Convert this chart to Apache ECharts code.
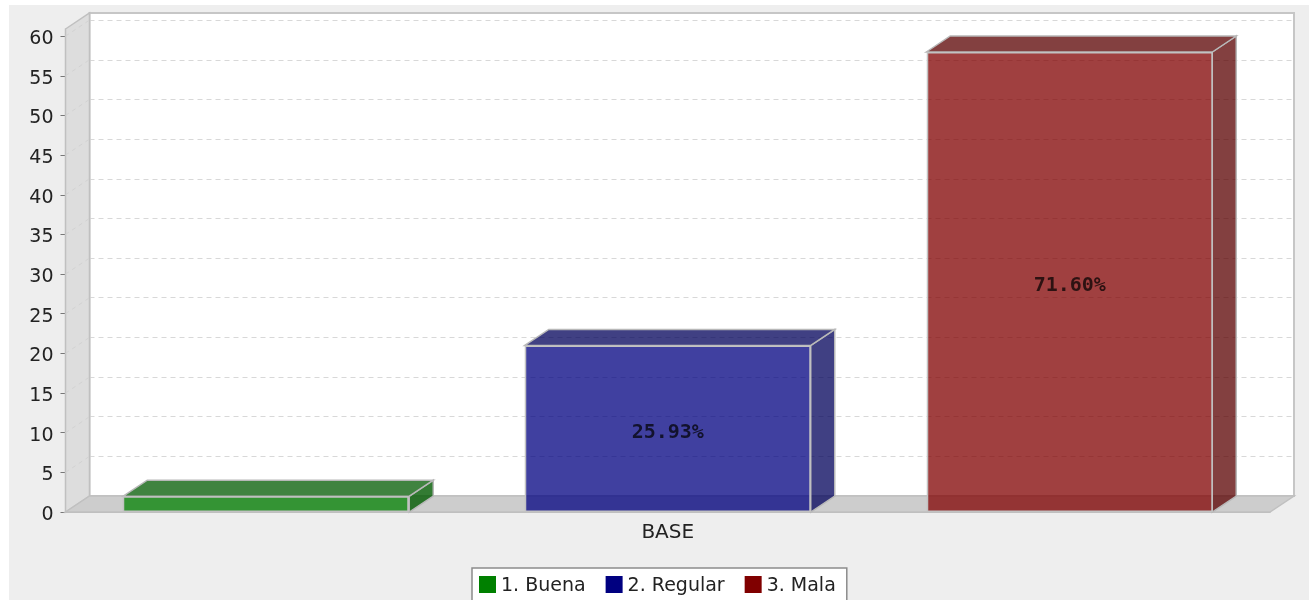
<!DOCTYPE html>
<html>
<head>
<meta charset="utf-8">
<title>BASE</title>
<style>
  html, body { margin: 0; padding: 0; background: #fff; overflow: hidden; }
  #chart { position: absolute; left: 9px; top: 5px; width: 1300px; height: 595px; }
  /* the source picture is a soft, upscaled image */
  #chart canvas { filter: blur(0.5px); }
</style>
</head>
<body>
<div id="chart"></div>
<script src="https://cdn.jsdelivr.net/npm/echarts@6/dist/echarts.min.js"></script>
<script>
const categories = ['BASE'];
const seriesNames = ['1. Buena', '2. Regular', '3. Mala'];
const seriesValues = [2, 21, 58];
const percentLabels = ['', '25.93%', '71.60%'];
const yTicks = [0, 5, 10, 15, 20, 25, 30, 35, 40, 45, 50, 55, 60];
const yMax = 60.9;

const solidColors = ['#008000', '#000080', '#800000'];
const frontColors = ['rgba(0,128,0,0.75)', 'rgba(0,0,128,0.75)', 'rgba(128,0,0,0.75)'];
const topColors = ['rgba(0,90,0,0.75)', 'rgba(0,0,89,0.75)', 'rgba(89,0,0,0.75)'];
const sideColors = ['rgba(0,90,0,0.8)', 'rgba(0,0,89,0.75)', 'rgba(89,0,0,0.75)'];

// 3d look: back wall is shifted by this much from the front plane
const DEPTH_X = 24;
const DEPTH_Y = 16;
const BAR_WIDTH = 286;
const TEXT_COLOR = '#222';
const FONT = '"DejaVu Sans"';

function poly(points, fill, stroke) {
  return {
    type: 'polygon',
    shape: { points },
    style: { fill, stroke: stroke || 'none', lineWidth: 1.5 }
  };
}

// left wall + floor
function renderWalls(params, api) {
  const cs = params.coordSys;
  const top = cs.y;
  const bottom = cs.y + cs.height;
  const left = cs.x;
  const right = cs.x + cs.width;
  const children = [
    poly([[left, top], [left + DEPTH_X, top - DEPTH_Y], [left + DEPTH_X, bottom - DEPTH_Y], [left, bottom]], '#dddddd', '#c0c0c0'),
    poly([[left, bottom], [left + DEPTH_X, bottom - DEPTH_Y], [right + DEPTH_X, bottom - DEPTH_Y], [right, bottom]], '#cdcdcd', '#c0c0c0')
  ];
  yTicks.slice(1).forEach(v => {
    const y = api.coord([0, v])[1];
    children.push({
      type: 'line',
      shape: { x1: left, y1: y, x2: left + DEPTH_X, y2: y - DEPTH_Y },
      style: { stroke: '#d2d2d2', lineWidth: 1, lineDash: [4, 4] }
    });
  });
  return { type: 'group', children };
}

// top and side faces, the front face is the normal bar series
function renderDepth(params, api) {
  const i = params.dataIndex;
  const end = api.coord([api.value(0), api.value(1)]);
  const base = api.coord([api.value(0), 0]);
  const band = api.size([1, 0])[0];
  const pitch = band / seriesValues.length;
  const x0 = end[0] - band / 2 + pitch * (i + 0.5) - BAR_WIDTH / 2;
  const x1 = x0 + BAR_WIDTH;
  const y = end[1];
  return {
    type: 'group',
    children: [
      poly([[x1, y], [x1 + DEPTH_X, y - DEPTH_Y], [x1 + DEPTH_X, base[1] - DEPTH_Y], [x1, base[1]]], sideColors[i], '#b8b8b8'),
      poly([[x0, y], [x0 + DEPTH_X, y - DEPTH_Y], [x1 + DEPTH_X, y - DEPTH_Y], [x1, y]], topColors[i], '#b8b8b8')
    ]
  };
}

const barSeries = seriesNames.map((name, i) => ({
  name,
  type: 'bar',
  xAxisIndex: 0,
  yAxisIndex: 0,
  z: 5,
  barWidth: BAR_WIDTH,
  barGap: '40.56%',
  data: [seriesValues[i]],
  itemStyle: {
    color: frontColors[i],
    borderColor: '#c2c2c2',
    borderWidth: 1.5
  },
  label: {
    show: percentLabels[i] !== '',
    position: 'inside',
    offset: [0, 4],
    formatter: percentLabels[i],
    fontFamily: '"DejaVu Sans Mono"',
    fontWeight: 'bold',
    fontSize: 20,
    color: 'rgba(0,0,0,0.72)'
  }
}));

const option = {
  backgroundColor: '#eeeeee',
  animation: false,
  legend: {
    left: 463,
    top: 563,
    padding: [8, 11, 8, 7],
    itemWidth: 17,
    itemHeight: 17,
    itemGap: 20,
    backgroundColor: '#fff',
    borderColor: '#8c8c8c',
    borderWidth: 1.5,
    borderRadius: 0,
    formatter: '{t|{name}}',
    textStyle: {
      fontFamily: FONT,
      fontSize: 19,
      color: TEXT_COLOR,
      // plain text ignores a top padding when it is middle aligned
      rich: { t: { fontFamily: FONT, fontSize: 19, color: TEXT_COLOR, padding: [4, 0, 0, 0] } }
    },
    data: seriesNames.map((name, i) => ({
      name,
      icon: 'rect',
      itemStyle: { color: solidColors[i], borderWidth: 0 }
    }))
  },
  grid: [
    { left: 56.5, right: 39, top: 24, bottom: 88 },
    {
      left: 80.5, right: 15, top: 8, bottom: 104,
      show: true,
      backgroundColor: '#fff',
      borderColor: '#c6c6c6',
      borderWidth: 2
    }
  ],
  xAxis: [
    {
      type: 'category',
      gridIndex: 0,
      data: categories,
      axisTick: { show: false },
      axisLine: { lineStyle: { color: '#b0b0b0', width: 1.5 } },
      axisLabel: { fontFamily: FONT, fontSize: 20, color: TEXT_COLOR, margin: 11 }
    },
    { type: 'category', gridIndex: 1, data: categories, show: false }
  ],
  yAxis: [
    {
      type: 'value',
      gridIndex: 0,
      min: 0,
      max: yMax,
      interval: 5,
      axisLine: { show: true, lineStyle: { color: '#b8b8b8', width: 1.5 } },
      axisTick: { show: true, length: 5, customValues: yTicks, lineStyle: { color: '#777' } },
      axisLabel: {
        customValues: yTicks,
        formatter: '{t|{value}}',
        margin: 12,
        rich: { t: { fontFamily: FONT, fontSize: 19, color: TEXT_COLOR, padding: [6, 0, 0, 0] } }
      },
      splitLine: { show: false }
    },
    {
      type: 'value',
      gridIndex: 1,
      min: 0,
      max: yMax,
      interval: 5,
      axisLine: { show: false },
      axisTick: { show: false },
      axisLabel: { show: false },
      splitLine: {
        show: true,
        showMinLine: false,
        showMaxLine: false,
        lineStyle: { color: '#d8d8d8', width: 1, type: [5, 4] }
      }
    }
  ],
  series: [
    {
      type: 'custom',
      name: 'walls',
      xAxisIndex: 0,
      yAxisIndex: 0,
      z: 1,
      silent: true,
      clip: false,
      renderItem: renderWalls,
      data: [[0, 0]]
    },
    {
      type: 'custom',
      name: 'depth',
      xAxisIndex: 0,
      yAxisIndex: 0,
      z: 4,
      silent: true,
      clip: false,
      encode: { x: 0, y: 1 },
      renderItem: renderDepth,
      data: seriesValues.map(v => [0, v])
    },
    ...barSeries
  ]
};

const myChart = echarts.init(document.getElementById('chart'));
myChart.setOption(option);
</script>
</body>
</html>
